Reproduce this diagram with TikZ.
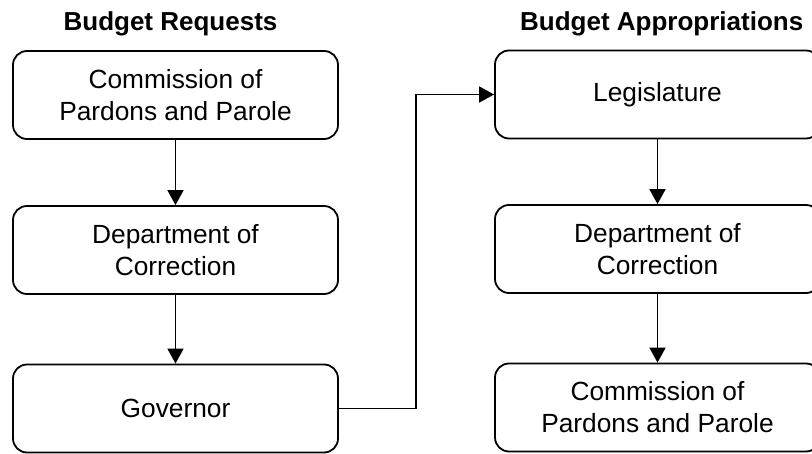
\documentclass[tikz,border=0pt]{standalone}
\usepackage{fontspec}
\setmainfont{Liberation Sans}
\usetikzlibrary{arrows.meta}
\begin{document}
\begin{tikzpicture}[x=1pt,y=-1pt,
  box/.style={draw, line width=1.8pt, rounded corners=14pt,
    minimum width=325pt, minimum height=88pt, align=center,
    font=\fontsize{26.3}{32}\selectfont, inner sep=0pt},
  heading/.style={font=\bfseries\fontsize{26}{32}\selectfont, anchor=base, inner sep=0pt},
  link/.style={line width=1.8pt, -{Triangle[length=15pt,width=16pt]}}]
  \useasboundingbox (0,0) rectangle (812,454);
  \clip (0,0) rectangle (812,454);

  % column headings
  \node[heading] (hreq) at (170.5,30.7) {Budget Requests};
  \node[heading] (happ) at (661.7,30.7) {Budget Appropriations};

  % request chain
  \node[box] (cpp1) at (175.5,95) {Commission of\\Pardons and Parole};
  \node[box] (doc1) at (175.5,250) {Department of\\Correction};
  \node[box] (gov)  at (175.5,408.5) {Governor};

  % appropriation chain
  \node[box] (leg)  at (657.5,94.5) {Legislature};
  \node[box] (doc2) at (657.5,249) {Department of\\Correction};
  \node[box] (cpp2) at (657.5,407.5) {Commission of\\Pardons and Parole};

  \draw[link] (cpp1) -- (doc1);
  \draw[link] (doc1) -- (gov);
  \draw[link] (leg) -- (doc2);
  \draw[link] (doc2) -- (cpp2);

  % governor to legislature
  \coordinate (turn) at (416,408.5);
  \draw[link] (gov.east) -- (gov.east -| turn) |- (leg.west);
\end{tikzpicture}
\end{document}
